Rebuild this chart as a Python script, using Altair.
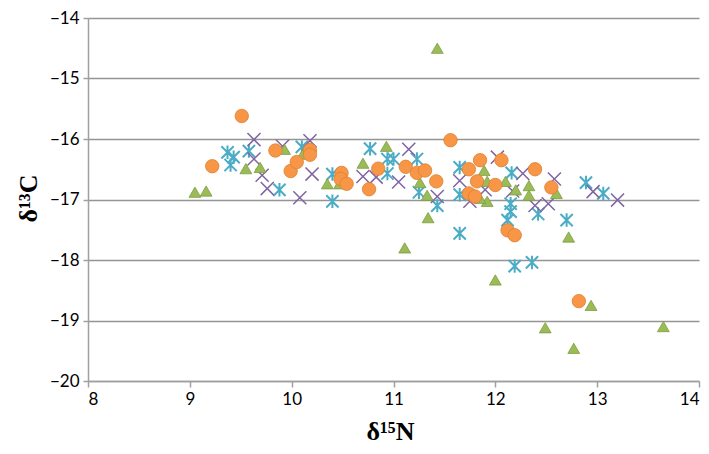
import altair as alt
import pandas as pd

# Green triangles
green_x = [9.05, 9.16, 9.55, 9.69, 9.93, 10.11, 10.35, 10.47, 10.70, 10.93, 11.26, 11.33, 11.34, 11.11,
           11.43, 11.89, 11.92, 11.92, 11.85, 12.10, 12.20, 12.33, 12.33, 12.60, 12.72, 12.00, 12.94,
           12.49, 13.65, 12.77]
green_y = [-16.88, -16.86, -16.49, -16.47, -16.17, -16.25, -16.74, -16.74, -16.40, -16.12, -16.72, -16.93,
           -17.30, -17.80, -14.50, -16.52, -16.70, -17.03, -16.98, -16.70, -16.84, -16.77, -16.93, -16.90,
           -17.62, -18.33, -18.75, -19.12, -19.10, -19.46]

# Orange circles
orange_x = [9.51, 9.22, 9.84, 9.99, 10.05, 10.18, 10.18, 10.49, 10.48, 10.54, 10.76, 10.85, 11.12, 11.23,
            11.31, 11.42, 11.56, 11.74, 11.85, 11.82, 11.74, 11.80, 12.06, 12.00, 12.39, 12.55, 12.12,
            12.19, 12.82]
orange_y = [-15.62, -16.45, -16.19, -16.53, -16.38, -16.18, -16.26, -16.56, -16.66, -16.74, -16.83, -16.49,
            -16.46, -16.56, -16.52, -16.70, -16.02, -16.50, -16.35, -16.70, -16.90, -16.95, -16.35, -16.76,
            -16.50, -16.80, -17.51, -17.59, -18.68]

# Purple crosses
purple_x = [9.63, 9.63, 9.71, 9.76, 9.91, 10.08, 10.18, 10.20, 10.70, 10.83, 11.05, 11.15, 11.43, 11.65,
            11.75, 11.90, 12.02, 12.17, 12.27, 12.39, 12.52, 12.58, 12.96, 13.20]
purple_y = [-16.01, -16.33, -16.60, -16.82, -16.12, -16.97, -16.03, -16.58, -16.62, -16.63, -16.71, -16.17,
            -16.95, -16.69, -17.03, -16.84, -16.30, -16.86, -16.57, -17.10, -17.07, -16.66, -16.87, -17.01]

# Teal asterisks
teal_x = [9.37, 9.43, 9.40, 9.58, 9.88, 10.10, 10.40, 10.40, 10.77, 10.94, 11.00, 10.94, 11.23, 11.25,
          11.43, 11.65, 11.65, 11.65, 12.16, 12.15, 12.15, 12.12, 12.42, 12.70, 12.89, 13.06, 12.19, 12.36]
teal_y = [-16.22, -16.30, -16.43, -16.20, -16.84, -16.13, -16.58, -17.03, -16.16, -16.33, -16.33, -16.57,
          -16.33, -16.88, -17.10, -16.47, -16.92, -17.56, -16.56, -17.07, -17.20, -17.34, -17.24, -17.34,
          -16.72, -16.90, -18.10, -18.04]

x_ticks = [8, 9, 10, 11, 12, 13, 14]
y_ticks = [-20, -19, -18, -17, -16, -15, -14]

xscale = alt.Scale(domain=[8, 14], nice=False, zero=False)
yscale = alt.Scale(domain=[-20, -14], nice=False, zero=False)

xaxis = alt.Axis(values=x_ticks, grid=False, title="δ¹⁵N", tickSize=6, labelPadding=4,
                 titleX=302, titleY=58, titleBaseline="alphabetic", titleAnchor="middle", titleAlign="center")
yaxis = alt.Axis(values=y_ticks, grid=True, title="δ¹³C", tickSize=5, labelPadding=4,
                 titleX=-60, titleY=180, titleAngle=270, titleBaseline="middle", titleAlign="center")


def layer(xs, ys, **mark):
    df = pd.DataFrame({"x": xs, "y": ys})
    return alt.Chart(df).mark_point(**mark).encode(
        x=alt.X("x:Q", scale=xscale, axis=xaxis),
        y=alt.Y("y:Q", scale=yscale, axis=yaxis),
    )


teal = layer(teal_x, teal_y, shape="M-1,-1L1,1M-1,1L1,-1M0,-1.1L0,1.1", size=150, filled=False,
             stroke="#4BACC6", strokeWidth=2, opacity=1)
purple = layer(purple_x, purple_y, shape="M-1,-1L1,1M-1,1L1,-1", size=170, filled=False,
               stroke="#8064A2", strokeWidth=1.5, opacity=1)
green = layer(green_x, green_y, shape="triangle-up", size=140, filled=True, fill="#9BBB59",
              stroke="#7E9D40", strokeWidth=0.8, opacity=1)
orange = layer(orange_x, orange_y, shape="circle", size=180, filled=True, fill="#F79646",
               stroke="#E07F2E", strokeWidth=0.8, opacity=1)

chart = alt.layer(teal, purple, green, orange).properties(
    width=611, height=363,
    autosize=alt.AutoSizeParams(type="none"),
    padding={"left": 80, "top": 10, "right": 2, "bottom": 65},
).configure_view(strokeWidth=0).configure_axis(
    labelFont="Lato", labelFontSize=17, labelColor="#000000",
    titleFont="Liberation Serif", titleFontSize=26, titleFontWeight="bold", titleColor="#000000",
    domainColor="#a0a0a0", domainWidth=1.5, tickColor="#a0a0a0", tickWidth=1.5,
    gridColor="#959595", gridWidth=1.5,
)

chart.save("out.html", embed_options={"renderer": "svg", "actions": False})
